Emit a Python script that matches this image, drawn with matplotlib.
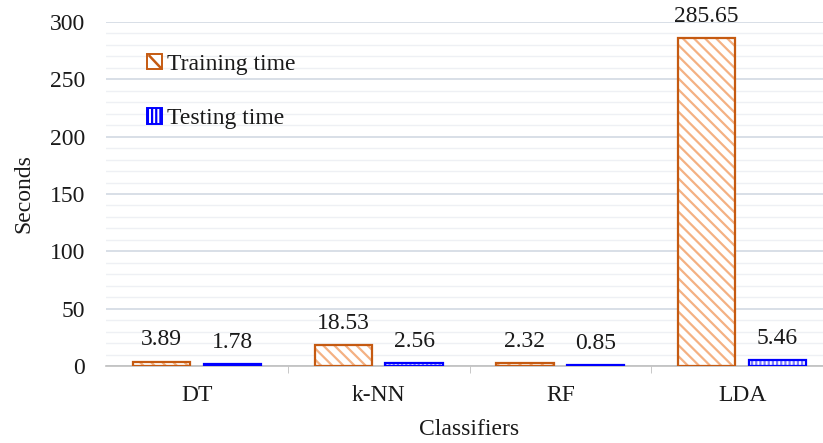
import matplotlib
matplotlib.use("Agg")
import matplotlib.pyplot as plt
import numpy as np
from matplotlib.patches import Patch, Rectangle
from matplotlib.lines import Line2D
from matplotlib.legend_handler import HandlerBase

classifiers = ["DT", "k-NN", "RF", "LDA"]
training_time = [3.89, 18.53, 2.32, 285.65]
testing_time = [1.78, 2.56, 0.85, 5.46]

plt.rcParams["font.family"] = ["Liberation Serif", "DejaVu Serif"]
plt.rcParams["hatch.linewidth"] = 1.6

FS = 17
TXT = "#1a1a1a"

fig = plt.figure(figsize=(8.23, 4.43), dpi=100)
ax = fig.add_axes([0.1288, 0.1738, 0.8834, 0.7765])

x = np.arange(len(classifiers))
w = 0.315
off = 0.195

train_edge = "#C55A11"
train_hatch = "#F4B183"
test_edge = "#0000FF"
test_hatch = "#7F7FFF"

# hatched fills first, outlines on top so hatch and edge can differ in colour
ax.bar(x - off, training_time, w, facecolor="white", edgecolor=train_hatch,
       hatch="\\\\\\", linewidth=0, zorder=3)
ax.bar(x - off, training_time, w, fill=False, edgecolor=train_edge,
       linewidth=1.6, zorder=4)
ax.bar(x + off, testing_time, w, facecolor="white", edgecolor=test_hatch,
       hatch="||||", linewidth=0, zorder=3)
ax.bar(x + off, testing_time, w, fill=False, edgecolor=test_edge,
       linewidth=1.6, zorder=4)

for xi, v in zip(x - off, training_time):
    ax.annotate(f"{v:.2f}", (xi, v), xytext=(0, 8), textcoords="offset points",
                ha="center", va="bottom", fontsize=FS, color=TXT)
for xi, v in zip(x + off, testing_time):
    ax.annotate(f"{v:.2f}", (xi, v), xytext=(0, 8), textcoords="offset points",
                ha="center", va="bottom", fontsize=FS, color=TXT)

ax.set_xlim(-0.5, len(classifiers) - 0.5)
ax.set_ylim(0, 300)
ax.set_yticks(np.arange(0, 301, 50))
ax.set_yticks(np.arange(0, 301, 10), minor=True)
ax.grid(axis="y", which="major", color="#D6DCE5", linewidth=1.3, zorder=0)
ax.grid(axis="y", which="minor", color="#EEF0F4", linewidth=1.0, zorder=0)
ax.set_axisbelow(True)

ax.set_xticks(x)
ax.set_xticklabels(classifiers, fontsize=FS, color=TXT)
ax.tick_params(axis="x", which="major", length=0, pad=14)
ax.set_xticks(np.arange(0.5, len(classifiers) - 0.5, 1), minor=True)
ax.tick_params(axis="x", which="minor", length=5, color="#BFBFBF", direction="out")
ax.tick_params(axis="y", which="both", length=0, labelsize=FS, pad=15,
               labelcolor=TXT)

for s in ["top", "right", "left"]:
    ax.spines[s].set_visible(False)
ax.spines["bottom"].set_color("#BFBFBF")
ax.spines["bottom"].set_linewidth(1.2)

ax.set_ylabel("Seconds", fontsize=FS, labelpad=11, color=TXT)
ax.set_xlabel("Classifiers", fontsize=FS, labelpad=9, color=TXT)


class DiagonalSquare(HandlerBase):
    """Legend key: outlined square crossed by a single diagonal stroke."""

    def create_artists(self, legend, orig_handle, xdescent, ydescent,
                       width, height, fontsize, trans):
        ec = orig_handle.get_edgecolor()
        sq = Rectangle((-xdescent, -ydescent), width, height, facecolor="white",
                       edgecolor=ec, linewidth=1.4, transform=trans)
        d1 = Line2D([-xdescent + 1.5, -xdescent + width - 1.5],
                    [-ydescent + height - 1.5, -ydescent + 1.5],
                    color=ec, linewidth=1.8, transform=trans)
        return [sq, d1]


handles = [
    Patch(facecolor="white", edgecolor=train_edge, linewidth=1.4),
    Patch(facecolor="white", edgecolor=test_edge, hatch="||||", linewidth=1.4),
]
leg = ax.legend(handles, ["Training time", "Testing time"], loc="upper left",
                bbox_to_anchor=(0.044, 0.935), frameon=False, fontsize=FS,
                handlelength=0.62, handleheight=0.62, handletextpad=0.2,
                labelspacing=1.42, borderaxespad=0, labelcolor=TXT,
                handler_map={handles[0]: DiagonalSquare()})

fig.savefig("out.png", dpi=100)
